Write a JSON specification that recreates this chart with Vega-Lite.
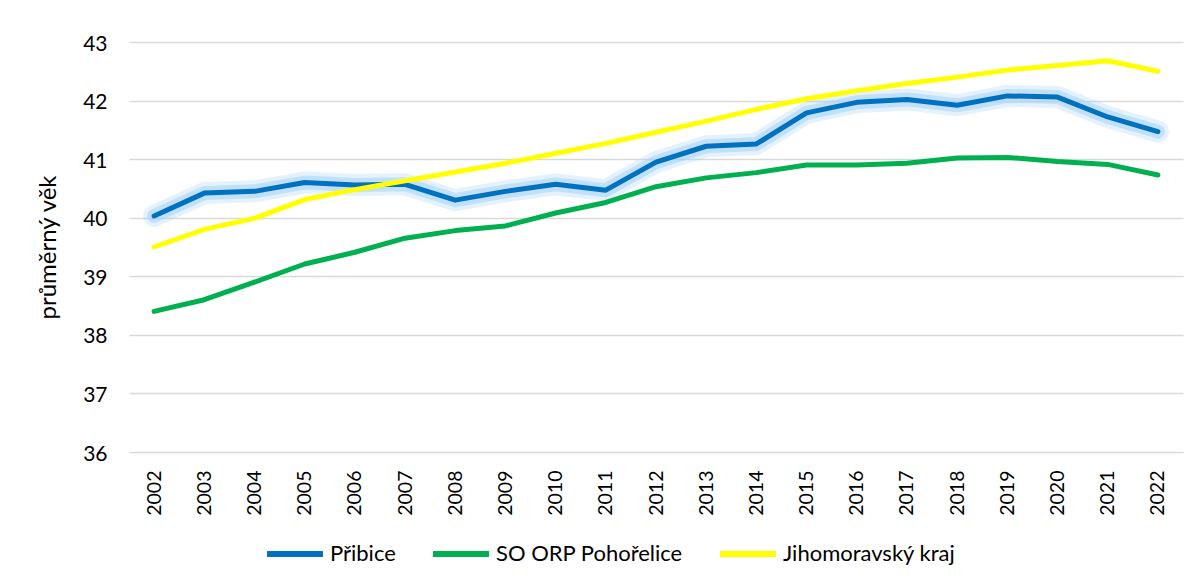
{
  "$schema": "https://vega.github.io/schema/vega-lite/v6.json",
  "width": 1054,
  "height": 410,
  "autosize": {"type": "none"},
  "padding": {"left": 129, "top": 42, "right": 17, "bottom": 129},
  "background": "white",
  "config": {
    "font": "Lato",
    "view": {"stroke": null},
    "axis": {"labelColor": "#000000", "titleColor": "#000000", "labelFont": "Lato", "titleFont": "Lato"}
  },
  "data": {
    "values": [
      {"rok": "2002", "serie": "Přibice", "vek": 40.03},
      {"rok": "2003", "serie": "Přibice", "vek": 40.42},
      {"rok": "2004", "serie": "Přibice", "vek": 40.45},
      {"rok": "2005", "serie": "Přibice", "vek": 40.6},
      {"rok": "2006", "serie": "Přibice", "vek": 40.56},
      {"rok": "2007", "serie": "Přibice", "vek": 40.57},
      {"rok": "2008", "serie": "Přibice", "vek": 40.3},
      {"rok": "2009", "serie": "Přibice", "vek": 40.45},
      {"rok": "2010", "serie": "Přibice", "vek": 40.57},
      {"rok": "2011", "serie": "Přibice", "vek": 40.47},
      {"rok": "2012", "serie": "Přibice", "vek": 40.95},
      {"rok": "2013", "serie": "Přibice", "vek": 41.22},
      {"rok": "2014", "serie": "Přibice", "vek": 41.26},
      {"rok": "2015", "serie": "Přibice", "vek": 41.79},
      {"rok": "2016", "serie": "Přibice", "vek": 41.97},
      {"rok": "2017", "serie": "Přibice", "vek": 42.02},
      {"rok": "2018", "serie": "Přibice", "vek": 41.92},
      {"rok": "2019", "serie": "Přibice", "vek": 42.08},
      {"rok": "2020", "serie": "Přibice", "vek": 42.06},
      {"rok": "2021", "serie": "Přibice", "vek": 41.72},
      {"rok": "2022", "serie": "Přibice", "vek": 41.47},
      {"rok": "2002", "serie": "SO ORP Pohořelice", "vek": 38.4},
      {"rok": "2003", "serie": "SO ORP Pohořelice", "vek": 38.6},
      {"rok": "2004", "serie": "SO ORP Pohořelice", "vek": 38.9},
      {"rok": "2005", "serie": "SO ORP Pohořelice", "vek": 39.21},
      {"rok": "2006", "serie": "SO ORP Pohořelice", "vek": 39.41},
      {"rok": "2007", "serie": "SO ORP Pohořelice", "vek": 39.65},
      {"rok": "2008", "serie": "SO ORP Pohořelice", "vek": 39.78},
      {"rok": "2009", "serie": "SO ORP Pohořelice", "vek": 39.86},
      {"rok": "2010", "serie": "SO ORP Pohořelice", "vek": 40.08},
      {"rok": "2011", "serie": "SO ORP Pohořelice", "vek": 40.26},
      {"rok": "2012", "serie": "SO ORP Pohořelice", "vek": 40.53},
      {"rok": "2013", "serie": "SO ORP Pohořelice", "vek": 40.68},
      {"rok": "2014", "serie": "SO ORP Pohořelice", "vek": 40.77},
      {"rok": "2015", "serie": "SO ORP Pohořelice", "vek": 40.9},
      {"rok": "2016", "serie": "SO ORP Pohořelice", "vek": 40.9},
      {"rok": "2017", "serie": "SO ORP Pohořelice", "vek": 40.93},
      {"rok": "2018", "serie": "SO ORP Pohořelice", "vek": 41.02},
      {"rok": "2019", "serie": "SO ORP Pohořelice", "vek": 41.03},
      {"rok": "2020", "serie": "SO ORP Pohořelice", "vek": 40.96},
      {"rok": "2021", "serie": "SO ORP Pohořelice", "vek": 40.91},
      {"rok": "2022", "serie": "SO ORP Pohořelice", "vek": 40.73},
      {"rok": "2002", "serie": "Jihomoravský kraj", "vek": 39.5},
      {"rok": "2003", "serie": "Jihomoravský kraj", "vek": 39.8},
      {"rok": "2004", "serie": "Jihomoravský kraj", "vek": 39.99},
      {"rok": "2005", "serie": "Jihomoravský kraj", "vek": 40.31},
      {"rok": "2006", "serie": "Jihomoravský kraj", "vek": 40.48},
      {"rok": "2007", "serie": "Jihomoravský kraj", "vek": 40.63},
      {"rok": "2008", "serie": "Jihomoravský kraj", "vek": 40.78},
      {"rok": "2009", "serie": "Jihomoravský kraj", "vek": 40.93},
      {"rok": "2010", "serie": "Jihomoravský kraj", "vek": 41.1},
      {"rok": "2011", "serie": "Jihomoravský kraj", "vek": 41.27},
      {"rok": "2012", "serie": "Jihomoravský kraj", "vek": 41.46},
      {"rok": "2013", "serie": "Jihomoravský kraj", "vek": 41.65},
      {"rok": "2014", "serie": "Jihomoravský kraj", "vek": 41.85},
      {"rok": "2015", "serie": "Jihomoravský kraj", "vek": 42.03},
      {"rok": "2016", "serie": "Jihomoravský kraj", "vek": 42.17},
      {"rok": "2017", "serie": "Jihomoravský kraj", "vek": 42.29},
      {"rok": "2018", "serie": "Jihomoravský kraj", "vek": 42.4},
      {"rok": "2019", "serie": "Jihomoravský kraj", "vek": 42.52},
      {"rok": "2020", "serie": "Jihomoravský kraj", "vek": 42.6},
      {"rok": "2021", "serie": "Jihomoravský kraj", "vek": 42.68},
      {"rok": "2022", "serie": "Jihomoravský kraj", "vek": 42.5}
    ]
  },
  "encoding": {
    "x": {
      "field": "rok",
      "type": "ordinal",
      "scale": {"type": "point", "padding": 0.5},
      "axis": {
        "title": null,
        "labelAngle": -90,
        "labelFontSize": 19.5,
        "labelPadding": 18,
        "ticks": false,
        "domain": false,
        "grid": false
      }
    },
    "y": {
      "field": "vek",
      "type": "quantitative",
      "scale": {"domain": [36, 43], "nice": false, "zero": false},
      "axis": {
        "title": "průměrný věk",
        "titleFontSize": 24,
        "titleFontWeight": "normal",
        "titlePadding": 22,
        "labelFontSize": 21,
        "labelPadding": 22,
        "labelOffset": 2,
        "values": [36, 37, 38, 39, 40, 41, 42, 43],
        "ticks": false,
        "domain": false,
        "grid": true,
        "gridColor": "#D9D9D9",
        "gridWidth": 1.5
      }
    }
  },
  "layer": [
    {
      "transform": [{"filter": "datum.serie === 'Přibice'"}],
      "mark": {"type": "line", "stroke": "#A9D5F8", "strokeWidth": 22, "opacity": 0.3, "strokeCap": "round", "strokeJoin": "round"}
    },
    {
      "transform": [{"filter": "datum.serie === 'Přibice'"}],
      "mark": {"type": "line", "stroke": "#A9D5F8", "strokeWidth": 14, "opacity": 0.6, "strokeCap": "round", "strokeJoin": "round"}
    },
    {
      "mark": {"type": "line", "strokeWidth": 5, "strokeCap": "round", "strokeJoin": "round"},
      "encoding": {
        "color": {
          "field": "serie",
          "type": "nominal",
          "scale": {
            "domain": ["Přibice", "SO ORP Pohořelice", "Jihomoravský kraj"],
            "range": ["#0070C0", "#00B050", "#FFFF00"]
          },
          "legend": {
            "title": null,
            "orient": "none",
            "legendX": 135,
            "legendY": 481,
            "direction": "horizontal",
            "symbolType": "stroke",
            "symbolSize": 3136,
            "symbolStrokeWidth": 6,
            "labelFontSize": 22,
            "labelColor": "#000000",
            "labelOffset": 4,
            "columnPadding": 25,
            "labelLimit": 300
          }
        }
      }
    }
  ]
}
